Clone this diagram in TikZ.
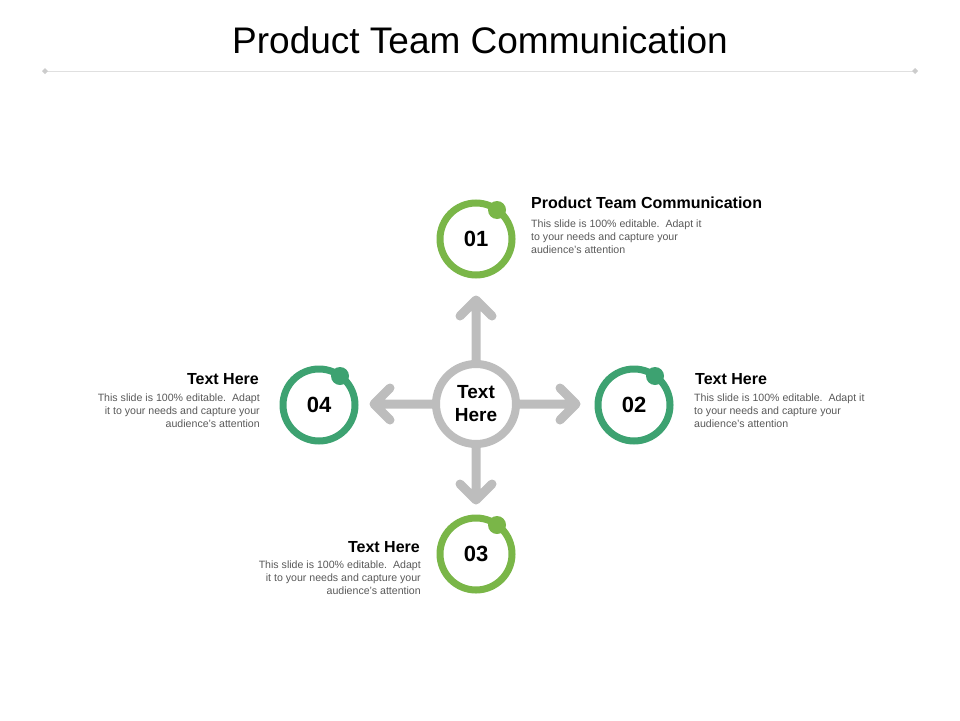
\documentclass[tikz,border=0pt]{standalone}
\usepackage{fontspec}
\setmainfont{Liberation Sans}
\definecolor{lgreen}{HTML}{7AB648}
\definecolor{dgreen}{HTML}{3DA271}
\definecolor{arrowgray}{HTML}{BDBDBD}
\definecolor{bodygray}{HTML}{595959}
\tikzset{
	ring/.style={circle,draw=#1,line width=7pt,minimum size=72pt,inner sep=0pt,font=\bfseries\fontsize{22}{22}\selectfont},
	dot/.style={circle,fill=#1,minimum size=18pt,inner sep=0pt},
	spoke/.style={draw=arrowgray,line width=9pt,line cap=round,line join=round},
	head/.style={font=\bfseries\fontsize{16}{18}\selectfont,inner sep=0pt},
	body/.style={font=\fontsize{10.6}{13}\selectfont,text=bodygray,inner sep=0pt}
}
\begin{document}
\begin{tikzpicture}[x=1pt,y=-1pt]
	\useasboundingbox (0,0) rectangle (960,720);
	
	% title and rule
	\node (title) at (480,40) {\fontsize{37}{37}\selectfont Product Team Communication};
	\draw[black!12,line width=0.8pt] (45,71) -- (915,71);
	\fill[black!20] (45,68) -- (48,71) -- (45,74) -- (42,71) -- cycle;
	\fill[black!20] (915,68) -- (918,71) -- (915,74) -- (912,71) -- cycle;
	
	% arrows
	\coordinate (c) at (476,404);
	\draw[spoke] (c) -- (476,300) (460,316) -- (476,300) -- (492,316);
	\draw[spoke] (c) -- (576,404) (560,388) -- (576,404) -- (560,420);
	\draw[spoke] (c) -- (476,500) (460,484) -- (476,500) -- (492,484);
	\draw[spoke] (c) -- (374,404) (390,388) -- (374,404) -- (390,420);
	\node[circle,draw=arrowgray,fill=white,line width=8pt,minimum size=80pt,inner sep=0pt,
		align=center,font=\bfseries\fontsize{19}{23}\selectfont] (center) at (c) {Text\\Here};
	
	% steps
	\node[ring=lgreen] (s1) at (476,239) {01};
	\node[ring=dgreen] (s2) at (634,405) {02};
	\node[ring=lgreen] (s3) at (476,554) {03};
	\node[ring=dgreen] (s4) at (319,405) {04};
	\node[dot=lgreen] at ([xshift=21pt,yshift=29pt]s1.center) {};
	\node[dot=dgreen] at ([xshift=21pt,yshift=29pt]s2.center) {};
	\node[dot=lgreen] at ([xshift=21pt,yshift=29pt]s3.center) {};
	\node[dot=dgreen] at ([xshift=21pt,yshift=29pt]s4.center) {};
	
	% texts
	\node[head,anchor=west] (h1) at (531,203) {Product Team Communication};
	\node[body,anchor=north west,align=left] (b1) at (531,220) {This slide is 100\% editable.\ \ Adapt it\\to your needs and capture your\\audience's attention};
	\node[head,anchor=west] (h2) at (695,379) {Text Here};
	\node[body,anchor=north west,align=left] (b2) at (694,394) {This slide is 100\% editable.\ \ Adapt it\\to your needs and capture your\\audience's attention};
	\node[head,anchor=east] (h3) at (420,547) {Text Here};
	\node[body,anchor=north east,align=right] (b3) at (421,561) {This slide is 100\% editable.\ \ Adapt\\it to your needs and capture your\\audience's attention};
	\node[head,anchor=east] (h4) at (259,379) {Text Here};
	\node[body,anchor=north east,align=right] (b4) at (260,394) {This slide is 100\% editable.\ \ Adapt\\it to your needs and capture your\\audience's attention};
\end{tikzpicture}
\end{document}
